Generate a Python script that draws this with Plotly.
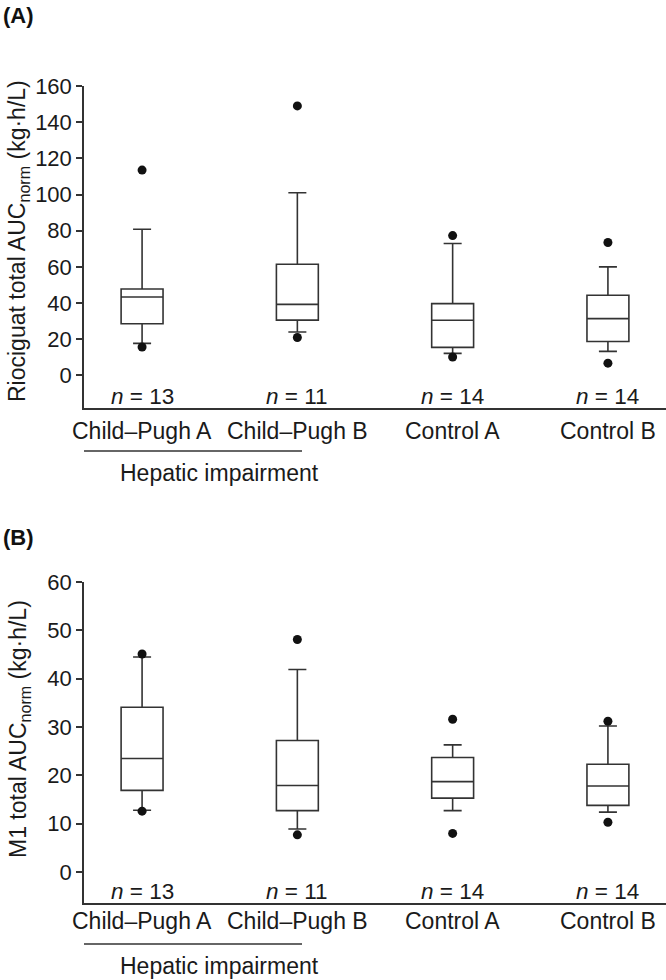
import plotly.graph_objects as go
from plotly.subplots import make_subplots

categories = ["Child\u2013Pugh A", "Child\u2013Pugh B", "Control A", "Control B"]
n_labels = ["13", "11", "14", "14"]

# Panel A: Riociguat total AUCnorm
a_lower = [17.7, 24.0, 12.2, 13.3]
a_q1 = [28.6, 30.6, 15.5, 18.8]
a_median = [43.4, 39.3, 30.5, 31.4]
a_q3 = [47.8, 61.5, 39.7, 44.3]
a_upper = [80.8, 101.0, 72.9, 60.0]
a_out_hi = [113.5, 149.0, 77.3, 73.5]
a_out_lo = [15.7, 21.0, 10.2, 6.8]

# Panel B: M1 total AUCnorm
b_lower = [12.8, 8.9, 12.7, 12.4]
b_q1 = [16.9, 12.7, 15.3, 13.8]
b_median = [23.5, 17.9, 18.7, 17.8]
b_q3 = [34.1, 27.2, 23.7, 22.3]
b_upper = [44.5, 41.9, 26.3, 30.2]
b_out_hi = [45.1, 48.1, 31.6, 31.2]
b_out_lo = [12.6, 7.7, 8.0, 10.3]

a_ticks = [0, 20, 40, 60, 80, 100, 120, 140, 160]
b_ticks = [0, 10, 20, 30, 40, 50, 60]

FONT = "Liberation Sans, Arial, sans-serif"
INK = "#333333"
TXT = "#1a1a1a"
FS = 23

W, H = 666, 980
ML, MR, MT, MB = 84, 0, 86, 77
PW = W - ML - MR
PH = H - MT - MB


def py(pix):
    return (H - MB - pix) / PH


def px(pix):
    return (pix - ML) / PW


fig = make_subplots(rows=2, cols=1, vertical_spacing=0.0)
domA = [py(408), 1.0]
domB = [0.0, py(582)]

for row, lo, q1, med, q3, up, ohi, olo in [
    (1, a_lower, a_q1, a_median, a_q3, a_upper, a_out_hi, a_out_lo),
    (2, b_lower, b_q1, b_median, b_q3, b_upper, b_out_hi, b_out_lo),
]:
    fig.add_trace(go.Box(
        x=categories, q1=q1, median=med, q3=q3, lowerfence=lo, upperfence=up,
        width=0.27, whiskerwidth=0.43, fillcolor="white",
        line=dict(color=INK, width=1.6), boxpoints=False, showlegend=False,
    ), row=row, col=1)
    fig.add_trace(go.Scatter(
        x=categories + categories, y=ohi + olo, mode="markers",
        marker=dict(color="#111111", size=9), showlegend=False,
    ), row=row, col=1)

axis_common = dict(showgrid=False, zeroline=False, showline=True, linecolor=INK,
                   linewidth=1.5)
xr = [-0.374, 3.374]
fig.update_xaxes(range=xr, showticklabels=False, ticks="", **axis_common)
fig.update_xaxes(domain=[0, 1])
fig.update_yaxes(ticks="outside", ticklen=6, tickwidth=1.5, tickcolor=INK,
                 tickfont=dict(family=FONT, size=22, color=TXT), **axis_common)
fig.update_yaxes(range=[-18, 160], tickvals=a_ticks, domain=domA, row=1, col=1)
fig.update_yaxes(range=[-6.4, 60], tickvals=b_ticks, domain=domB, row=2, col=1)

ann = []
shapes = []
for xref, yref, n_y, cat_y, line_y, hep_y in [
    ("x", "y", -11.5, py(431), py(451), py(473)),
    ("x2", "y2", -4.1, py(921), py(944), py(966)),
]:
    for c, n in zip(categories, n_labels):
        ann.append(dict(x=c, y=n_y, xref=xref, yref=yref, text=f"<i>n</i> = {n}",
                        showarrow=False, font=dict(family=FONT, size=FS - 0.5, color=TXT)))
        ann.append(dict(x=c, y=cat_y, xref=xref, yref="paper", text=c,
                        showarrow=False, yanchor="middle",
                        font=dict(family=FONT, size=FS, color=TXT)))
    ann.append(dict(x=0.5, y=hep_y, xref=xref, yref="paper", text="Hepatic impairment",
                    showarrow=False, yanchor="middle",
                    font=dict(family=FONT, size=FS, color=TXT)))
    shapes.append(dict(type="line", xref=xref, yref="paper", x0=xr[0], x1=1.03,
                       y0=line_y, y1=line_y, line=dict(color=INK, width=1.5)))

ann.append(dict(x=px(19), y=py(241), xref="paper", yref="paper", textangle=-90,
                text="Riociguat total AUC<sub>norm</sub> (kg\u00b7h/L)", showarrow=False,
                xanchor="center", yanchor="middle",
                font=dict(family=FONT, size=FS, color=TXT)))
ann.append(dict(x=px(19), y=py(729), xref="paper", yref="paper", textangle=-90,
                text="M1 total AUC<sub>norm</sub> (kg\u00b7h/L)", showarrow=False,
                xanchor="center", yanchor="middle",
                font=dict(family=FONT, size=FS, color=TXT)))
ann.append(dict(x=px(1), y=py(16), xref="paper", yref="paper", text="<b>(A)</b>",
                showarrow=False, xanchor="left", yanchor="middle",
                font=dict(family=FONT, size=22, color="#111111")))
ann.append(dict(x=px(1), y=py(537), xref="paper", yref="paper", text="<b>(B)</b>",
                showarrow=False, xanchor="left", yanchor="middle",
                font=dict(family=FONT, size=22, color="#111111")))

fig.update_layout(
    width=W, height=H, margin=dict(l=ML, r=MR, t=MT, b=MB),
    paper_bgcolor="white", plot_bgcolor="white",
    annotations=ann, shapes=shapes, showlegend=False,
    font=dict(family=FONT, color=TXT),
)

fig.write_html("out.html", config={"displayModeBar": False},
               post_script="document.body.style.margin='0';document.body.style.overflow='hidden';")
